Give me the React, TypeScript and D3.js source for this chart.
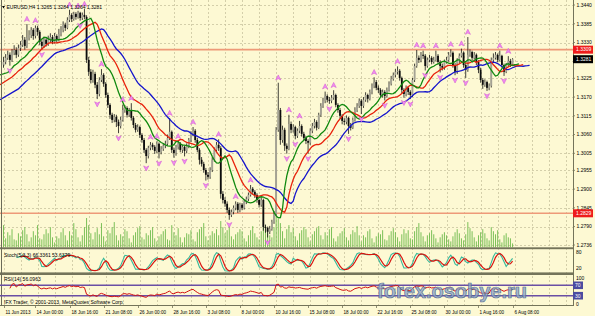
import React from "react";
import * as d3 from "d3";

// ---- price data (pips, 1.xxxx * 10000), H4 bars ----
const firstOpen = 13265;
const closes = [
  13273,13285,13294,13279,13300,13308,13294,13314,13323,13338,
  13320,13344,13352,13367,13349,13373,13361,13332,13320,13338,
  13326,13338,13346,13332,13349,13338,13355,13367,13382,13373,
  13396,13411,13399,13414,13405,13417,13402,13411,13405,13279,
  13244,13220,13238,13206,13179,13220,13235,13209,13176,13147,
  13118,13103,13112,13097,13085,13103,13132,13138,13118,13129,
  13109,13088,13074,13082,13059,13044,13015,12997,13021,13030,
  13024,13012,13033,13009,13018,13027,13033,13050,13068,13015,
  13006,13024,13033,13015,13024,13012,13027,13044,13062,13071,
  13044,13015,12986,12974,12956,12942,12936,12956,12986,13015,
  13030,13020,12886,12868,12857,12839,12824,12833,12845,12857,
  12839,12854,12845,12863,12871,12883,12901,12892,12883,12868,
  12854,12868,12789,12786,12775,12783,12804,12827,13074,13132,
  13044,13074,13027,13018,13091,13074,13082,13056,13071,13085,
  13062,13050,13041,13036,13071,13085,13097,13080,13118,13144,
  13159,13173,13162,13159,13168,13176,13147,13132,13115,13100,
  13097,13109,13085,13080,13103,13132,13144,13159,13144,13162,
  13176,13165,13185,13203,13214,13197,13191,13176,13185,13173,
  13191,13209,13223,13235,13244,13247,13226,13191,13179,13197,
  13185,13176,13220,13261,13285,13279,13294,13291,13261,13279,
  13285,13273,13279,13291,13273,13261,13256,13273,13279,13294,
  13300,13264,13244,13276,13291,13300,13264,13250,13294,13302,
  13285,13294,13273,13250,13220,13206,13214,13197,13203,13279,
  13285,13294,13279,13291,13264,13244,13264,13276,13265,13281,
];
const highs = [
  13288,13296,13306,13301,13311,13322,13316,13324,13334,13352,
  13346,13384,13366,13375,13372,13380,13379,13366,13340,13347,
  13343,13350,13357,13352,13358,13354,13370,13378,13392,13388,
  13404,13426,13416,13420,13419,13423,13420,13418,13428,13410,
  13288,13252,13250,13244,13214,13228,13252,13240,13214,13183,
  13152,13124,13120,13118,13104,13112,13148,13146,13143,13138,
  13152,13114,13094,13090,13086,13064,13050,13020,13027,13038,
  13036,13029,13040,13037,13026,13034,13042,13060,13108,13072,
  13022,13030,13040,13038,13030,13028,13034,13050,13070,13082,
  13076,13050,13020,12994,12980,12962,12950,12964,12994,13022,
  13038,13046,13026,12894,12876,12864,12846,12840,12852,12864,
  12862,12860,12859,12870,12878,12890,12912,12906,12897,12888,
  12872,12876,12872,12796,12790,12792,12810,12836,13082,13212,
  13138,13086,13080,13034,13118,13098,13090,13086,13078,13100,
  13090,13068,13056,13046,13078,13094,13106,13102,13124,13152,
  13168,13186,13178,13170,13176,13190,13180,13152,13138,13120,
  13108,13116,13112,13094,13110,13140,13152,13166,13164,13170,
  13184,13180,13192,13210,13228,13220,13204,13196,13192,13190,
  13198,13216,13232,13242,13252,13260,13252,13230,13196,13204,
  13202,13190,13226,13268,13308,13292,13302,13306,13296,13286,
  13294,13290,13288,13306,13296,13278,13268,13280,13288,13302,
  13310,13304,13270,13284,13298,13312,13304,13270,13346,13310,
  13306,13302,13298,13278,13256,13226,13222,13218,13210,13286,
  13298,13302,13298,13306,13294,13268,13270,13290,13282,13284,
];
const lows = [
  13256,13266,13279,13262,13273,13293,13284,13288,13305,13317,
  13309,13314,13336,13343,13338,13342,13350,13322,13309,13314,
  13318,13320,13331,13325,13327,13330,13333,13348,13360,13364,
  13369,13390,13390,13394,13397,13400,13394,13396,13398,13270,
  13232,13210,13212,13196,13164,13172,13214,13200,13168,13138,
  13106,13094,13096,13082,13064,13078,13098,13124,13110,13112,
  13101,13079,13066,13068,13050,13036,13006,12976,12990,13014,
  13015,13003,13006,12990,13002,13012,13020,13028,13044,13006,
  12992,12998,13016,13008,13006,12996,13005,13020,13038,13055,
  13036,13008,12972,12966,12948,12925,12928,12930,12950,12980,
  13008,13012,12872,12858,12848,12830,12810,12818,12826,12838,
  12830,12832,12838,12840,12856,12865,12878,12884,12874,12860,
  12846,12848,12778,12772,12758,12768,12778,12798,12820,13068,
  13030,13036,13012,13004,13014,13064,13066,13046,13050,13064,
  13054,13042,13032,13004,13030,13064,13078,13072,13076,13112,
  13138,13152,13154,13150,13152,13162,13140,13124,13106,13090,
  13088,13090,13062,13072,13076,13098,13126,13138,13120,13138,
  13156,13154,13160,13178,13196,13190,13182,13170,13168,13160,
  13168,13186,13204,13218,13228,13236,13218,13180,13168,13172,
  13176,13164,13170,13214,13256,13270,13272,13282,13248,13256,
  13272,13266,13268,13274,13266,13242,13248,13250,13268,13274,
  13288,13256,13234,13238,13270,13286,13256,13226,13244,13288,
  13276,13280,13264,13240,13212,13194,13200,13188,13190,13198,
  13272,13280,13272,13274,13256,13232,13240,13260,13258,13264,
];
// tick volume, thousands
const volumesK = [
  22,9,15,12,18,8, 7,14,11,17,20,13, 6,10,16,12,22,9, 8,13,18,14,20,10,
  5,11,9,15,19,12, 7,16,12,24,18,10, 6,12,20,29,22,14, 8,15,19,13,24,11,
  6,17,14,20,25,12, 7,13,11,18,16,9, 5,12,15,19,21,10, 8,14,12,17,20,9,
  6,11,13,16,18,8, 7,22,15,12,19,10, 5,10,14,13,17,8, 6,15,18,20,24,11,
  7,12,16,14,18,12, 26,20,14,17,22,11, 8,13,15,18,16,9, 6,12,17,21,14,10,
  8,16,27,22,18,12, 10,20,30,28,24,16, 9,18,22,15,19,11, 7,14,17,20,18,10,
  6,13,16,19,21,12, 8,15,12,18,20,9, 6,11,14,16,19,10, 7,13,17,15,21,12,
  6,12,10,16,18,9, 5,11,14,13,17,8, 7,12,16,19,15,10, 6,13,18,14,17,9,
  8,16,20,24,15,11, 6,12,14,17,13,9, 5,10,13,15,12,8, 6,11,15,18,14,9,
  7,13,25,19,16,10, 6,12,15,18,14,9, 7,20,16,13,17,8, 5,12,14,10,9,4,
];

// Alligator lines at the left edge and seeds
const lipsEdge = 13235, teethEdge = 13206, jawEdge = 13162;
const lipsSeed = 13242, teethSeed = 13229, jawSeed = 13194;

const priceTicks = ["1.3440","1.3385","1.3330","1.3275","1.3225","1.3170","1.3115","1.3060","1.3005","1.2955","1.2900","1.2845","1.2790","1.2736"];
const hiddenTick = "1.3275"; // covered by current-price box
const levelPrices = [1.3309, 1.2829];
const levelLabels = ["1.3309", "1.2829"];
const currentPrice = 1.3281;
const currentLabel = "1.3281";
const timeLabels = ["11 Jun 2013","14 Jun 00:00","18 Jun 16:00","21 Jun 08:00","26 Jun 00:00","28 Jun 16:00","3 Jul 08:00","8 Jul 00:00","10 Jul 16:00","15 Jul 08:00","18 Jul 00:00","22 Jul 16:00","25 Jul 08:00","30 Jul 00:00","1 Aug 16:00","6 Aug 08:00"];
const timeLabelBars = [0,15,31,47,63,79,95,111,127,143,159,175,191,207,223,239];
const titleText = "EURUSD,H4  1.3265 1.3284 1.3264 1.3281";
const stochText = "Stoch(5,3,3) 66.3361 53.6379";
const rsiText = "RSI(14) 56.0963";
const copyText = "IFX Trader, \u00a9 2001-2013, MetaQuotes Software Corp.";
const watermark = "forex.osobye.ru";

const BG = "#fdf9d3";
const FRAME = "#74745a";
const GRID = "#c9c4a0";
const FONT = "'Liberation Sans', Arial, sans-serif";
const AXIS_X = 573;

export default function App() {
  const n = closes.length;
  const P = (v: number) => v / 10000;
  const x = d3.scaleLinear().domain([0, n - 1]).range([3.5, 3.5 + 2.13 * (n - 1)]);
  const y = d3.scaleLinear().domain([1.2736, 1.344]).range([245, 5]);
  const yVol = d3.scaleLinear().domain([0, 30]).range([247.5, 217]);
  const ySt = d3.scaleLinear().domain([0, 100]).range([272, 251]);
  const yRsi = d3.scaleLinear().domain([0, 100]).range([303.5, 277.5]);

  const opens = closes.map((c, i) => (i === 0 ? firstOpen : closes[i - 1]));
  const med = highs.map((h, i) => (h + lows[i]) / 2);

  const smma = (N: number, seed: number) => {
    const out: number[] = [];
    let s = seed;
    for (let i = 0; i < n; i++) {
      s = (s * (N - 1) + med[i]) / N;
      out.push(s);
    }
    return out;
  };
  const line = d3.line<[number, number]>().x((d) => d[0]).y((d) => d[1]);
  const alligator = [
    { N: 13, shift: 8, seed: jawSeed, edge: jawEdge, color: "#1414cc" },
    { N: 8, shift: 5, seed: teethSeed, edge: teethEdge, color: "#e8220c" },
    { N: 5, shift: 3, seed: lipsSeed, edge: lipsEdge, color: "#10890f" },
  ].map((a) => {
    const vals = smma(a.N, a.seed);
    const pts: [number, number][] = [
      [0, y(P(a.edge))],
      [x(a.shift - 1), y(P(a.seed))],
      ...vals.map((v, i) => [x(i + a.shift), y(P(v))] as [number, number]),
    ];
    return { d: line(pts) || "", color: a.color };
  });

  // Fractals
  const upF: number[] = [];
  const dnF: number[] = [];
  for (let i = 2; i < n - 2; i++) {
    if (highs[i] > highs[i - 1] && highs[i] > highs[i - 2] && highs[i] > highs[i + 1] && highs[i] > highs[i + 2]) upF.push(i);
    if (lows[i] < lows[i - 1] && lows[i] < lows[i - 2] && lows[i] < lows[i + 1] && lows[i] < lows[i + 2]) dnF.push(i);
  }

  // Stochastic 5,3,3
  const K: (number | null)[] = new Array(n).fill(null);
  const D: (number | null)[] = new Array(n).fill(null);
  for (let i = 6; i < n; i++) {
    let num = 0, den = 0;
    for (let j = i - 2; j <= i; j++) {
      const ll = d3.min(lows.slice(j - 4, j + 1))!;
      const hh = d3.max(highs.slice(j - 4, j + 1))!;
      num += closes[j] - ll;
      den += hh - ll;
    }
    K[i] = den ? (100 * num) / den : 50;
  }
  for (let i = 8; i < n; i++) D[i] = ((K[i] as number) + (K[i - 1] as number) + (K[i - 2] as number)) / 3;

  // RSI 14
  const R: (number | null)[] = new Array(n).fill(null);
  let ag = 0, al = 0;
  for (let i = 1; i < n; i++) {
    const ch = closes[i] - closes[i - 1];
    const g = Math.max(ch, 0), l = Math.max(-ch, 0);
    if (i <= 14) { ag = (ag * (i - 1) + g) / i; al = (al * (i - 1) + l) / i; }
    else { ag = (ag * 13 + g) / 14; al = (al * 13 + l) / 14; }
    R[i] = al === 0 ? 100 : 100 - 100 / (1 + ag / al);
  }
  const seriesLine = (arr: (number | null)[], ys: d3.ScaleLinear<number, number>, from: number) =>
    d3.line<number>()
      .defined((_, i) => i >= from && arr[i] !== null)
      .x((_, i) => x(i))
      .y((v) => ys(v))(arr as number[]) || "";

  const gridBars = d3.range(0, 272, 8);

  const arrowUp = "M0,-2.8 L2.6,2.3 L0,1 L-2.6,2.3 Z";
  const arrowDn = "M0,2.8 L2.6,-2.3 L0,-1 L-2.6,-2.3 Z";

  return (
    <svg width={595} height={316} style={{ display: "block", position: "absolute", left: 0, top: 0 }} fontFamily={FONT}>
      <defs>
        <clipPath id="mainClip"><rect x={0} y={0} width={AXIS_X} height={247.5} /></clipPath>
        <clipPath id="stClip"><rect x={0} y={249} width={AXIS_X} height={23.5} /></clipPath>
        <clipPath id="rsiClip"><rect x={0} y={275} width={AXIS_X} height={30} /></clipPath>
      </defs>
      <rect x={0} y={0} width={595} height={316} fill={BG} />

      {/* grid */}
      <g stroke={GRID} strokeWidth={0.8} strokeDasharray="2,2">
        {priceTicks.map((t) => (
          <line key={"h" + t} x1={0} x2={AXIS_X} y1={Math.round(y(+t)) + 0.5} y2={Math.round(y(+t)) + 0.5} />
        ))}
        {gridBars.map((b) => (
          <line key={"v" + b} x1={Math.round(x(b)) + 0.5} x2={Math.round(x(b)) + 0.5} y1={0} y2={305} />
        ))}
      </g>

      <g clipPath="url(#mainClip)">
        {/* level lines */}
        {levelPrices.map((p) => (
          <line key={p} x1={0} x2={AXIS_X} y1={y(p)} y2={y(p)} stroke="#ee9a78" strokeWidth={1.6} />
        ))}
        {/* volumes */}
        {volumesK.map((v, i) => (
          <line key={"vol" + i} x1={x(i)} x2={x(i)} y1={yVol(0)} y2={yVol(v)} stroke="#6cb94a" strokeWidth={0.9} />
        ))}
        {/* candles */}
        {closes.map((c, i) => {
          const o = opens[i];
          const top = y(P(Math.max(o, c)));
          const bot = y(P(Math.min(o, c)));
          const bull = c >= o;
          return (
            <g key={"c" + i}>
              <line x1={x(i)} x2={x(i)} y1={y(P(highs[i]))} y2={y(P(lows[i]))} stroke="#111" strokeWidth={0.8} />
              <rect x={x(i) - 0.9} width={1.8} y={top} height={Math.max(0.8, bot - top)} fill={bull ? "#a4a294" : "#0c0c0c"} />
            </g>
          );
        })}
        {/* alligator */}
        {alligator.map((a, k) => (
          <path key={"al" + k} d={a.d} fill="none" stroke={a.color} strokeWidth={1.3} />
        ))}
        {/* fractals */}
        {upF.map((i) => (
          <path key={"fu" + i} d={arrowUp} transform={`translate(${x(i)},${y(P(highs[i])) - 5})`} fill="#f08ef0" stroke="#d050d0" strokeWidth={0.5} />
        ))}
        {dnF.map((i) => (
          <path key={"fd" + i} d={arrowDn} transform={`translate(${x(i)},${y(P(lows[i])) + 5})`} fill="#f08ef0" stroke="#d050d0" strokeWidth={0.5} />
        ))}
      </g>

      {/* title */}
      <path d="M2,6 L5,6 L3.5,8.5 Z" fill="#000" />
      <text x={6.5} y={9} fontSize={5} fill="#000">{titleText}</text>

      {/* panel frames */}
      <rect x={0} y={247.3} width={AXIS_X} height={1.9} fill={FRAME} />
      <rect x={0} y={272.4} width={AXIS_X} height={2.6} fill={FRAME} />
      <rect x={0} y={305} width={AXIS_X + 1} height={1} fill={FRAME} />
      <rect x={1} y={0} width={1} height={306} fill="#6a6a58" />
      <rect x={AXIS_X} y={0} width={1} height={306} fill={FRAME} />

      {/* stochastic */}
      <g clipPath="url(#stClip)">
        <path d={seriesLine(K, ySt, 6)} fill="none" stroke="#36b89a" strokeWidth={1.1} />
        <path d={seriesLine(D, ySt, 8)} fill="none" stroke="#d8140e" strokeWidth={1.2} />
      </g>
      <text x={4} y={256.5} fontSize={5} fill="#000">{stochText}</text>

      {/* RSI */}
      <line x1={0} x2={AXIS_X} y1={yRsi(70)} y2={yRsi(70)} stroke="#6a4fa4" strokeWidth={1.6} />
      <line x1={0} x2={AXIS_X} y1={yRsi(30)} y2={yRsi(30)} stroke="#6a4fa4" strokeWidth={1.6} />
      <g clipPath="url(#rsiClip)">
        <path d={seriesLine(R, yRsi, 3)} fill="none" stroke="#d41010" strokeWidth={1} />
      </g>
      <text x={4} y={280.5} fontSize={5} fill="#000">{rsiText}</text>
      <text x={4} y={303.5} fontSize={5} fill="#000">{copyText}</text>

      {/* watermark */}
      <text x={377} y={298} fontSize={20} fontWeight="bold" fill="#8ea7cb" fillOpacity={0.8} stroke="#4d648c" strokeWidth={0.7} strokeOpacity={0.9}>{watermark}</text>

      {/* price axis */}
      <g fontSize={5} fill="#000">
        {priceTicks.map((t) => (
          <g key={"pl" + t}>
            <line x1={AXIS_X} x2={AXIS_X + 2} y1={y(+t)} y2={y(+t)} stroke={FRAME} strokeWidth={0.8} />
            {t !== hiddenTick && <text x={AXIS_X + 3.5} y={y(+t) + 1.8}>{t}</text>}
          </g>
        ))}
      </g>
      {levelPrices.map((p, k) => (
        <g key={"lb" + k}>
          <rect x={AXIS_X} y={y(p) - 4} width={20} height={8} fill="#ee1c1c" />
          <text x={AXIS_X + 3} y={y(p) + 1.8} fontSize={5} fill="#fff">{levelLabels[k]}</text>
        </g>
      ))}
      <rect x={AXIS_X} y={y(currentPrice) - 4} width={20} height={8} fill="#000" />
      <text x={AXIS_X + 3} y={y(currentPrice) + 1.8} fontSize={5} fill="#fff">{currentLabel}</text>

      {/* stoch axis labels */}
      <text x={AXIS_X + 3} y={254} fontSize={5} fill="#000">80</text>
      <text x={AXIS_X + 3} y={269.5} fontSize={5} fill="#000">20</text>
      {/* rsi axis labels */}
      <text x={AXIS_X + 3} y={279.5} fontSize={5} fill="#000">100</text>
      <rect x={AXIS_X} y={yRsi(70) - 3.8} width={10} height={7.6} fill="#4b4ba0" />
      <text x={AXIS_X + 2} y={yRsi(70) + 1.8} fontSize={5} fill="#fff">70</text>
      <rect x={AXIS_X} y={yRsi(30) - 3.8} width={10} height={7.6} fill="#4b4ba0" />
      <text x={AXIS_X + 2} y={yRsi(30) + 1.8} fontSize={5} fill="#fff">30</text>
      <text x={AXIS_X + 3} y={305.5} fontSize={5} fill="#000">0</text>

      {/* time axis */}
      {timeLabels.map((t, k) => {
        const xx = Math.round(x(timeLabelBars[k])) + 0.5;
        return (
          <g key={"t" + k}>
            <line x1={xx} x2={xx} y1={305} y2={308} stroke={FRAME} strokeWidth={0.8} />
            <text x={xx + 1} y={313.5} fontSize={4.6} fill="#000">{t}</text>
          </g>
        );
      })}
    </svg>
  );
}
